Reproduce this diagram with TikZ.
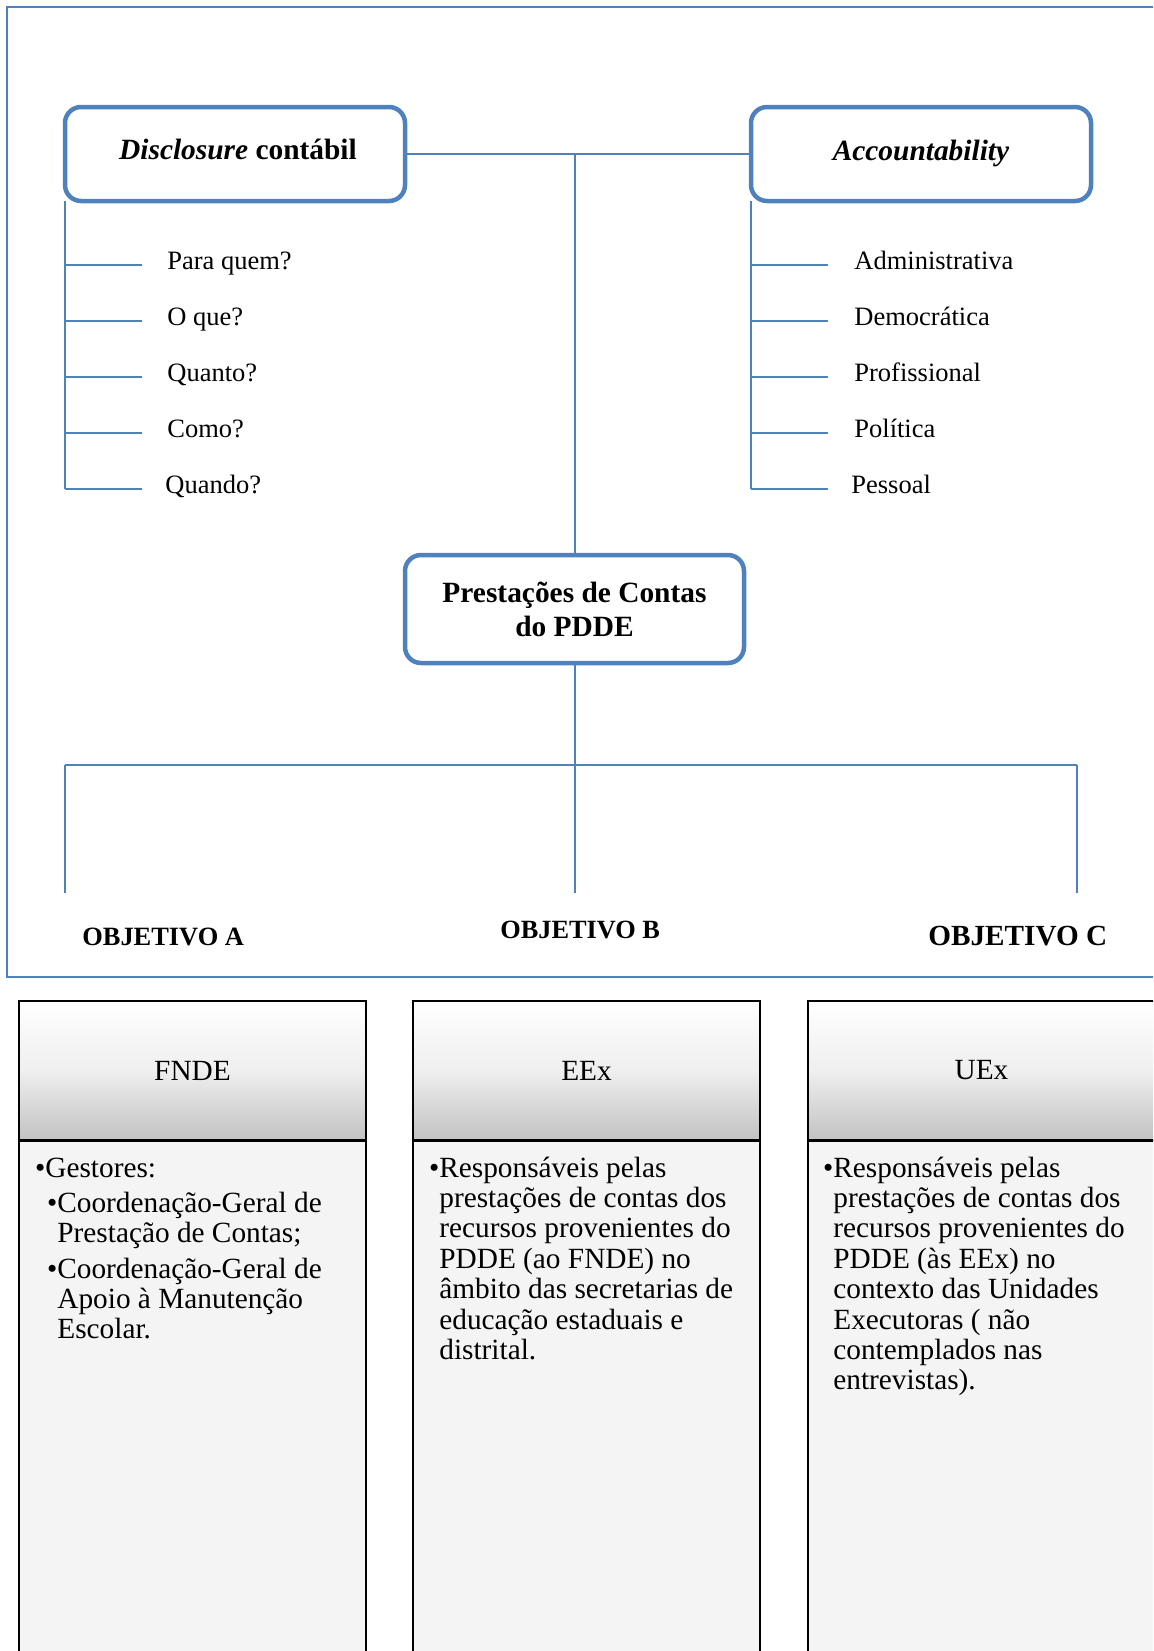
\documentclass[tikz,border=0pt]{standalone}
\usepackage{fontspec}
\setmainfont{Liberation Serif}
\definecolor{ofblue}{HTML}{4F81BD}
\definecolor{hgray}{HTML}{C2C2C2}
\definecolor{hmid}{HTML}{EFEFEF}
\definecolor{bodygray}{HTML}{F4F4F4}
\begin{document}
\begin{tikzpicture}[x=0.5pt,y=-0.5pt,
  bluline/.style={draw=ofblue, line width=1pt},
  rbox/.style={draw=ofblue, line width=2.25pt, rounded corners=8pt, fill=white, inner sep=0pt, outer sep=0pt,
    font=\fontsize{14.7}{17}\selectfont\bfseries, align=center},
  itemtxt/.style={anchor=base west, inner sep=0pt, font=\fontsize{13.25}{15}\selectfont},
  objtxt/.style={anchor=base west, inner sep=0pt},
  headbox/.style={draw=black, line width=1pt, top color=white, bottom color=hgray, middle color=hmid,
    minimum width=173.5pt, minimum height=69.5pt, inner sep=0pt, font=\fontsize{14.65}{17}\selectfont},
  bodybox/.style={draw=black, line width=1pt, fill=bodygray, minimum width=173.5pt, minimum height=270pt,
    anchor=north, inner sep=0pt},
  bodytxt/.style={anchor=base west, inner sep=0pt, font=\fontsize{14.65}{15.2}\selectfont}
]
\useasboundingbox (0,0) rectangle (1153,1651);
\clip (0,0) rectangle (1153,1651);

% outer frame
\draw[draw=ofblue, line width=1pt] (7,7) rectangle (1175,977);

% top boxes
\node[rbox, minimum width=170pt, minimum height=47pt, text height=10pt, text depth=5pt] (disc) at (235,154)
  {\hspace*{3pt}\textit{Disclosure} contábil};
\node[rbox, minimum width=170pt, minimum height=47pt, text height=10.5pt, text depth=4.5pt] (acc) at (921,154)
  {\textit{Accountability}};
\node[rbox, minimum width=169.5pt, minimum height=54pt] (pc) at (574.5,609)
  {Prestações de Contas\\do PDDE};

% connectors between top boxes
\draw[bluline] (disc.east) -- (acc.west);
\draw[bluline] (disc.east -| pc.north) -- (pc.north);

% left list
\foreach \txt/\tx [count=\i] in {Para quem?/167,O que?/167,Quanto?/167,Como?/167,Quando?/165} {
  \coordinate (L\i) at (65,209+56*\i);
  \draw[bluline] (L\i) -- ++(77,0) coordinate (Le\i);
  \node[itemtxt] (Lt\i) at (\tx,213+56*\i) {\txt};
}
\draw[bluline] (disc.south west) -- (L5);

% right list
\foreach \txt/\tx [count=\i] in {Administrativa/854,Democrática/854,Profissional/854,Política/854,Pessoal/851} {
  \coordinate (R\i) at (751,209+56*\i);
  \draw[bluline] (R\i) -- ++(77,0) coordinate (Re\i);
  \node[itemtxt] (Rt\i) at (\tx,213+56*\i) {\txt};
}
\draw[bluline] (acc.south west) -- (R5);

% lower tree
\coordinate (busL) at (65,765);
\coordinate (busR) at (1077,765);
\coordinate (endA) at (65,893);
\coordinate (endB) at (574.5,893);
\coordinate (endC) at (1077,893);
\draw[bluline] (pc.south) -- (endB);
\draw[bluline] (busL) -- (busR);
\draw[bluline] (busL) -- (endA);
\draw[bluline] (busR) -- (endC);

\node[objtxt, font=\fontsize{13.2}{15}\selectfont\bfseries] (objA) at (82,945) {OBJETIVO A};
\node[objtxt, font=\fontsize{13.15}{15}\selectfont\bfseries] (objB) at (500,938) {OBJETIVO B};
\node[objtxt, font=\fontsize{14.6}{17}\selectfont\bfseries] (objC) at (928,945) {OBJETIVO C};

% bottom columns
\node[bodybox] (b1) at (192.5,1140) {};
\node[bodybox] (b2) at (586.5,1140) {};
\node[bodybox] (b3) at (981.5,1140) {};
\node[headbox] (h1) at (192.5,1070.5) {FNDE};
\node[headbox] (h2) at (586.5,1070.5) {EEx};
\node[headbox] (h3) at (981.5,1070.5) {UEx};

% FNDE text
\node[bodytxt] (f1) at (45,1177) {\llap{•}Gestores:};
\node[bodytxt] (f2) at (57,1212) {\llap{•}Coordenação-Geral de};
\node[bodytxt] (f3) at (57,1242) {Prestação de Contas;};
\node[bodytxt] (f4) at (57,1278) {\llap{•}Coordenação-Geral de};
\node[bodytxt] (f5) at (57,1308) {Apoio à Manutenção};
\node[bodytxt] (f6) at (57,1338) {Escolar.};

% EEx text
\foreach \txt [count=\i from 0] in {{\llap{•}Responsáveis pelas},prestações de contas dos,recursos provenientes do,PDDE (ao FNDE) no,âmbito das secretarias de,educação estaduais e,distrital.} {
  \node[bodytxt] (e\i) at (439,1177+30.4*\i) {\txt};
}

% UEx text
\foreach \txt [count=\i from 0] in {{\llap{•}Responsáveis pelas},prestações de contas dos,recursos provenientes do,PDDE (às EEx) no,contexto das Unidades,Executoras ( não,contemplados nas,entrevistas).} {
  \node[bodytxt] (u\i) at (833,1177+30.4*\i) {\txt};
}
\end{tikzpicture}
\end{document}
